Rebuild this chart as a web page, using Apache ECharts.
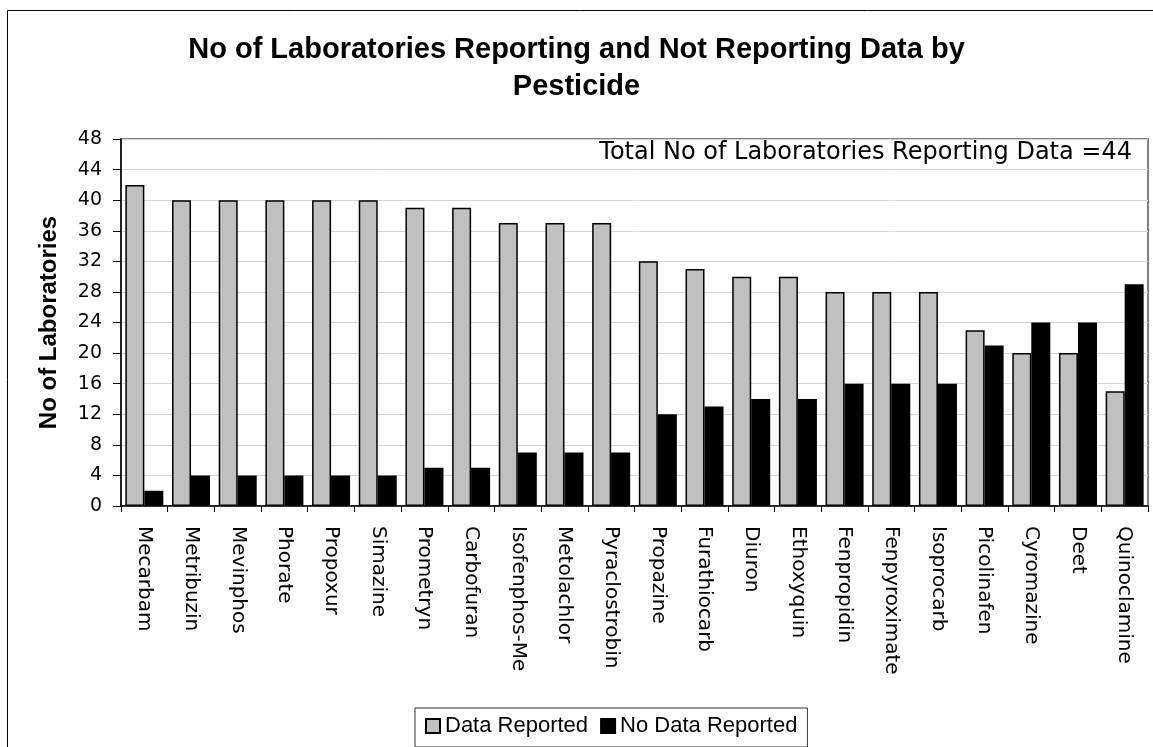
<!DOCTYPE html>
<html>
<head>
<meta charset="utf-8">
<script src="https://cdn.jsdelivr.net/npm/echarts@6/dist/echarts.min.js"></script>
<style>
html,body{margin:0;padding:0;background:#fff;}
#chart{width:1153px;height:747px;}
</style>
</head>
<body>
<div id="chart"></div>
<script>
const categories = ["Mecarbam","Metribuzin","Mevinphos","Phorate","Propoxur","Simazine","Prometryn","Carbofuran","Isofenphos-Me","Metolachlor","Pyraclostrobin","Propazine","Furathiocarb","Diuron","Ethoxyquin","Fenpropidin","Fenpyroximate","Isoprocarb","Picolinafen","Cyromazine","Deet","Quinoclamine"];
const dataReported = [42,40,40,40,40,40,39,39,37,37,37,32,31,30,30,28,28,28,23,20,20,15];
const noDataReported = [2,4,4,4,4,4,5,5,7,7,7,12,13,14,14,16,16,16,21,24,24,29];
const yTicks = [0,4,8,12,16,20,24,28,32,36,40,44,48];

const chart = echarts.init(document.getElementById('chart'), null, {renderer:'canvas'});
const geo = "'DejaVu Sans', sans-serif";
const arial = "'Liberation Sans', Arial, sans-serif";
chart.setOption({
  backgroundColor:'#fff',
  animation:false,
  title:{
    text:'No of Laboratories Reporting and Not Reporting Data by\nPesticide',
    left:'center', top:26,
    textStyle:{fontFamily:arial, fontWeight:'bold', fontSize:29, lineHeight:37, color:'#000'}
  },
  legend:{
    left:415, top:708,
    data:['Data Reported','No Data Reported'],
    itemWidth:14, itemHeight:14, itemGap:12,
    icon:'rect',
    borderColor:'#333', borderWidth:1, padding:[7,10,10,10],
    textStyle:{fontFamily:arial, fontSize:22, color:'#000'}
  },
  grid:{left:121, right:5, top:139, bottom:241, show:true, borderColor:'#808080', borderWidth:2},
  xAxis:{
    type:'category', data:categories,
    axisLine:{lineStyle:{color:'#000', width:1.5}},
    axisTick:{show:true, length:6, interval:0, lineStyle:{color:'#000'}},
    axisLabel:{interval:0, rotate:-90, margin:20, fontFamily:geo, fontSize:20, color:'#000'}
  },
  yAxis:{
    type:'value', min:yTicks[0], max:yTicks[yTicks.length-1], interval:4,
    name:'No of Laboratories', nameLocation:'middle', nameGap:60, nameRotate:90,
    nameTextStyle:{fontFamily:arial, fontWeight:'bold', fontSize:24, color:'#000'},
    axisLine:{show:true, lineStyle:{color:'#000', width:1.5}},
    axisTick:{show:true, length:8, lineStyle:{color:'#000'}},
    axisLabel:{margin:19, fontFamily:geo, fontSize:19, color:'#000'},
    splitLine:{show:true, lineStyle:{color:'#d4d4d4', width:1}}
  },
  series:[
    {name:'Data Reported', type:'bar', data:dataReported, barWidth:19, barGap:'0%',
     itemStyle:{color:'#C0C0C0', borderColor:'#000', borderWidth:1.5}},
    {name:'No Data Reported', type:'bar', data:noDataReported, barWidth:19,
     itemStyle:{color:'#000', borderColor:'#000', borderWidth:1.5}}
  ],
  graphic:[
    {type:'rect', shape:{x:7.5, y:10.5, width:1160, height:760}, style:{fill:null, stroke:'#000', lineWidth:1}, silent:true, z:-1},
    {type:'text', right:21, top:141, style:{text:'Total No of Laboratories Reporting Data =44', fontFamily:geo, fontSize:24, fill:'#000'}}
  ]
});
</script>
</body>
</html>
